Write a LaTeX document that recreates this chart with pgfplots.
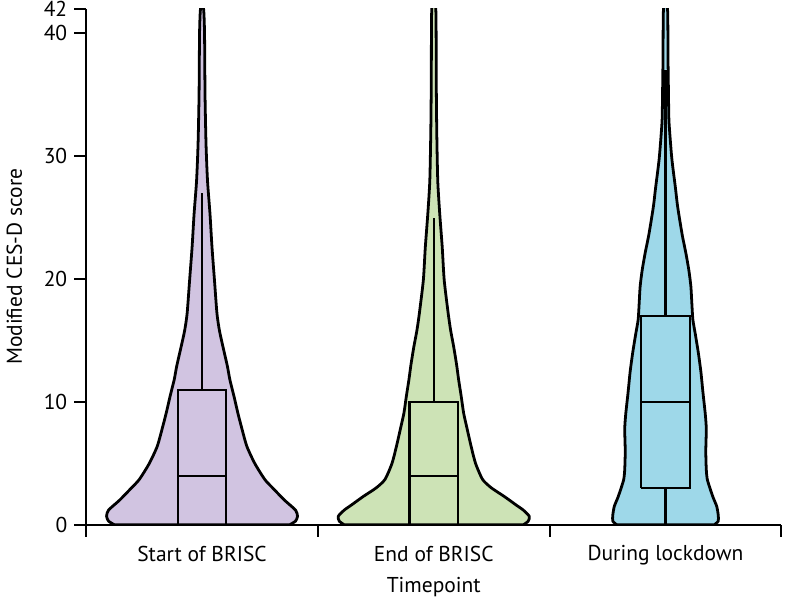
\documentclass[border=0pt]{standalone}
\usepackage{fontspec}
\setmainfont{PT Sans}
\usepackage{pgfplots}
\pgfplotsset{compat=1.18}
\usepackage{pgfplotstable}
\definecolor{vpurple}{HTML}{D1C4E1}
\definecolor{vgreen}{HTML}{CDE3B6}
\definecolor{vblue}{HTML}{9ED8E9}

% violin half widths, in pixels of the 788px reference (233 px = 1 category)
\pgfplotstableread{
v w
0 88
0.3 94
0.7 96
1.2 94
2 83
3 71
3.7 63
5 53
6.4 45
8 39.5
9.1 36
10.5 32
11.8 28
12.9 25.5
14.5 21
15.8 17.5
17.2 15
19.9 12.5
22.6 10
25.3 8
28 5.5
31 4
35 3
40 2.5
42 1.5
}\startbrisc
\pgfplotstableread{
v w
0 90
0.3 95
0.7 96
1.2 90
1.6 83
2.3 71
3 58
3.7 49
5 42
6.4 37.5
8 33
9.1 30
10.5 27.5
11.8 25
13 23
14.5 20
15.8 17
17.2 14.5
19.9 10.5
22.6 8.5
25.3 6
28 4
32 3
36 2.5
42 2
}\endbrisc
\pgfplotstableread{
v w
0 49
0.3 53
0.8 53
1.5 51.5
2.2 48
2.9 45
3.7 42
4.5 41
6 40.5
7.8 41
9 40
10.5 38
11.3 37
12.5 35.5
14 33
15.5 30
16.7 27.5
18 26.5
19.4 25.5
20.7 23.5
22.1 20.5
23.5 17
24.7 14.5
26 12
27.4 10
29 7.5
30.1 6
32.8 3.5
35 3
38 2.5
42 2
}\lockdown

% outline of each violin: right side going up, then left side coming down
\newcommand\mkoutline[3]{%
  \pgfplotstablegetrowsof{#2}\xdef#3{\pgfplotsretval}%
  \pgfplotstablesort[sort key=v, sort cmp=float <]{#1}{#2}%
  \pgfplotstablesort[sort key=v, sort cmp=float >]{\revtmp}{#2}%
  \pgfplotstablevertcat{#1}{\revtmp}}
\mkoutline{\startout}{\startbrisc}{\nA}
\mkoutline{\endout}{\endbrisc}{\nB}
\mkoutline{\lockout}{\lockdown}{\nC}

\begin{document}
\begin{tikzpicture}
\begin{axis}[
  scale only axis, width=349.5pt, height=259.5pt,
  xmin=-0.5, xmax=2.5, ymin=0, ymax=42,
  axis x line*=bottom, axis y line*=left,
  axis line style={line width=1.1pt},
  tick style={line width=1.1pt, black},
  tick align=outside, major tick length=6pt,
  ytick={0,10,20,30,40,42},
  yticklabel style={inner ysep=0.5pt},
  xtick={-0.5,0.5,1.5,2.5},
  xticklabel=\empty,
  extra x ticks={0,1,2},
  extra x tick labels={Start of BRISC,End of BRISC,During lockdown},
  extra x tick style={major tick length=0pt, xticklabel style={yshift=-7pt}},
  ticklabel style={font=\fontsize{10.8}{12}\selectfont},
  /pgf/number format/assume math mode=true,
  xlabel={Timepoint}, ylabel={Modified CES-D score},
  label style={font=\fontsize{10.8}{12}\selectfont},
  ylabel style={yshift=4pt},
  xlabel style={yshift=7pt},
]
\addplot[fill=vpurple, draw=black, line width=1.4pt, line join=round, smooth, tension=0.4]
  table[x expr={0+ifthenelse(\coordindex<\nA,1,-1)*\thisrow{w}/233}, y=v] {\startout} -- cycle;
\addplot[fill=vgreen, draw=black, line width=1.4pt, line join=round, smooth, tension=0.4]
  table[x expr={1+ifthenelse(\coordindex<\nB,1,-1)*\thisrow{w}/233}, y=v] {\endout} -- cycle;
\addplot[fill=vblue, draw=black, line width=1.4pt, line join=round, smooth, tension=0.4]
  table[x expr={2+ifthenelse(\coordindex<\nC,1,-1)*\thisrow{w}/233}, y=v] {\lockout} -- cycle;

% boxes: quartiles, medians and whiskers
\addplot[black, line width=1.1pt] coordinates {(-0.105,0) (0.105,0) (0.105,11) (-0.105,11) (-0.105,0)};
\addplot[black, line width=1.1pt] coordinates {(-0.105,4) (0.105,4)};
\addplot[black, line width=1.1pt] coordinates {(0,11) (0,27)};
\addplot[black, line width=1.1pt] coordinates {(0.895,0) (1.105,0) (1.105,10) (0.895,10) (0.895,0)};
\addplot[black, line width=1.1pt] coordinates {(0.895,4) (1.105,4)};
\addplot[black, line width=1.1pt] coordinates {(1,10) (1,25)};
\addplot[black, line width=1.1pt] coordinates {(1.895,3) (2.105,3) (2.105,17) (1.895,17) (1.895,3)};
\addplot[black, line width=1.1pt] coordinates {(1.895,10) (2.105,10)};
\addplot[black, line width=1.1pt] coordinates {(2,17) (2,37)};
\addplot[black, line width=1.1pt] coordinates {(2,0) (2,3)};
\end{axis}
\end{tikzpicture}
\end{document}
